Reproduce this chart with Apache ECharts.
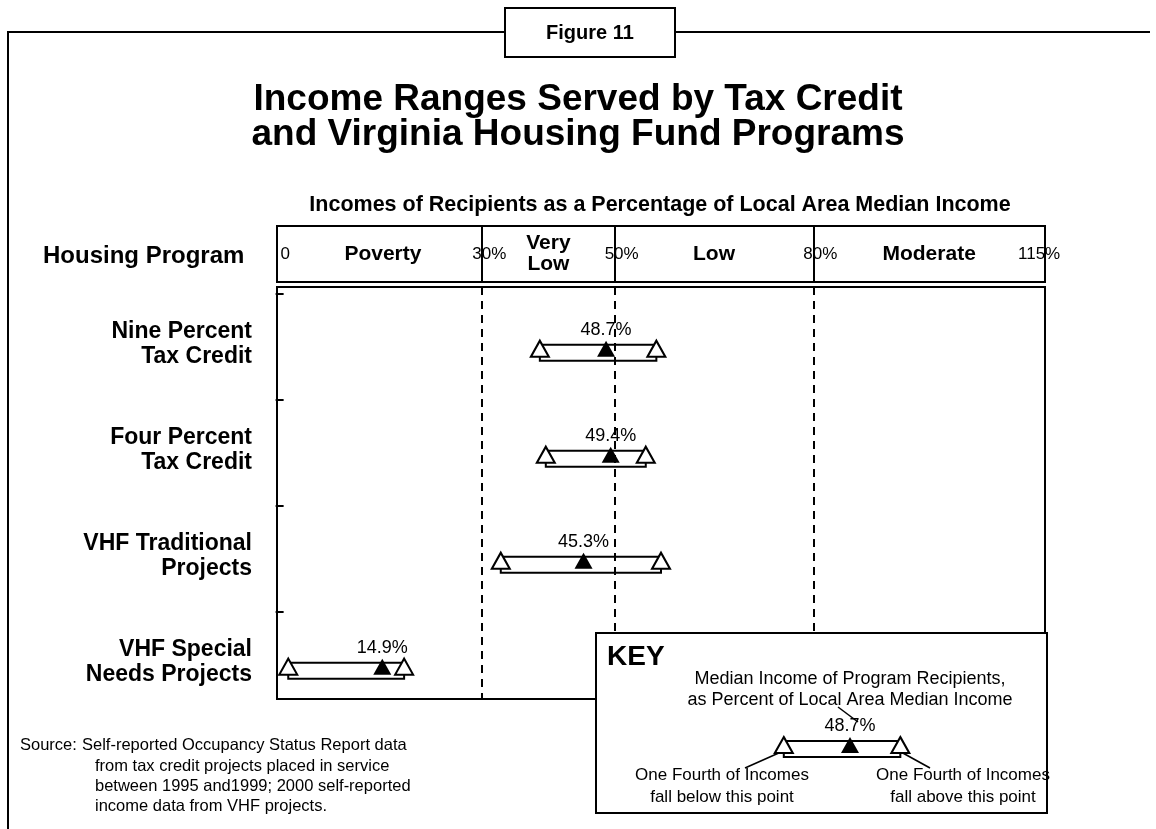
<!DOCTYPE html>
<html>
<head>
<meta charset="utf-8">
<title>Figure 11</title>
<script src="https://cdn.jsdelivr.net/npm/echarts@6/dist/echarts.min.js"></script>
<style>
html, body { margin: 0; padding: 0; background: #fff; }
#main { width: 1156px; height: 829px; }
</style>
</head>
<body>
<div id="main"></div>
<script>
var FONT = "'Liberation Sans', Arial, Helvetica, sans-serif";
var INK = "#000";

// programs, top to bottom
var programs = ["Nine Percent\nTax Credit", "Four Percent\nTax Credit", "VHF Traditional\nProjects", "VHF Special\nNeeds Projects"];
var lowQuarter = [38.7, 39.6, 32.8, 0.7];
var medianIncome = [48.7, 49.4, 45.3, 14.9];
var highQuarter = [56.3, 54.7, 57.0, 18.2];

// header band of income ranges (percent of local area median income)
var rangeEdges = [0, 30, 50, 80, 115];
var edgeLabels = ["0", "30%", "50%", "80%", "115%"];
var rangeNames = ["Poverty", "Very\nLow", "Low", "Moderate"];

// the key shows the first program as its sample
var keyIndex = 0;

var X_MIN = -1, X_MAX = 115;
var Y_MIN = -0.62, Y_MAX = 3.267;
var PLOT = { left: 277, top: 287, width: 768, height: 412 };
var KEYBOX = { left: 596, top: 633, width: 451, height: 180 };
var PX_PER_UNIT = PLOT.width / (X_MAX - X_MIN);
// same scale as the plot, with the key's median sitting at x = 850
var KEY_MIN = medianIncome[keyIndex] - (850 - KEYBOX.left) / PX_PER_UNIT;
var KEY_MAX = KEY_MIN + KEYBOX.width / PX_PER_UNIT;

function renderBox(params, api) {
	var a = api.coord([api.value(0), api.value(2)]);
	var b = api.coord([api.value(1), api.value(2)]);
	return {
		type: "rect",
		shape: { x: a[0], y: a[1] - 8, width: b[0] - a[0], height: 16 },
		style: { fill: "#fff", stroke: INK, lineWidth: 2 }
	};
}

function rangeSeries(xi, yi, rows, z) {
	// box from lower to upper quarter, open triangles at the ends, filled one at the median
	return [
		{
			type: "custom",
			xAxisIndex: xi,
			yAxisIndex: yi,
			z: z,
			renderItem: renderBox,
			encode: { x: [0, 1], y: 2 },
			data: rows.map(function(i, k) { return [lowQuarter[i], highQuarter[i], k]; })
		},
		{
			type: "scatter",
			xAxisIndex: xi,
			yAxisIndex: yi,
			z: z + 1,
			symbol: "triangle",
			symbolSize: [18, 16],
			symbolOffset: [0, -4],
			itemStyle: { color: "#fff", borderColor: INK, borderWidth: 2, opacity: 1 },
			data: rows.reduce(function(acc, i, k) {
				acc.push([lowQuarter[i], k], [highQuarter[i], k]);
				return acc;
			}, [])
		},
		{
			type: "scatter",
			xAxisIndex: xi,
			yAxisIndex: yi,
			z: z + 2,
			symbol: "triangle",
			symbolSize: [18, 16],
			symbolOffset: [0, -4],
			itemStyle: { color: INK, opacity: 1 },
			label: {
				show: true,
				position: "top",
				distance: 2,
				color: INK,
				fontFamily: FONT,
				fontSize: 18,
				formatter: function(p) { return p.value[0].toFixed(1) + "%"; }
			},
			data: rows.map(function(i, k) { return [medianIncome[i], k]; })
		}
	];
}

var chart = echarts.init(document.getElementById("main"));

var plotRows = programs.map(function(p, i) { return i; });
var plotSeries = rangeSeries(0, 0, plotRows, 2);
plotSeries[0].markLine = {
	silent: true,
	symbol: "none",
	label: { show: false },
	lineStyle: { color: INK, width: 2, type: [8, 6] },
	data: rangeEdges.slice(1, 4).map(function(v) { return { xAxis: v }; })
};

var keySeries = rangeSeries(2, 2, [keyIndex], 60);

var lastEdge = rangeEdges.length - 1;
var headerSeries = [
	{
		type: "scatter",
		xAxisIndex: 1,
		yAxisIndex: 1,
		symbolSize: 1,
		itemStyle: { color: "rgba(255,255,255,0)", opacity: 1 },
		label: {
			show: true,
			position: "inside",
			align: "left",
			verticalAlign: "middle",
			color: INK,
			fontFamily: FONT,
			fontSize: 17
		},
		data: rangeEdges.map(function(v, i) {
			return {
				value: [v, 0.5],
				label: {
					formatter: edgeLabels[i],
					offset: [i === 0 ? -3 : (i === lastEdge ? -27 : -10), 0]
				}
			};
		}),
		markLine: {
			silent: true,
			symbol: "none",
			label: { show: false },
			lineStyle: { color: INK, width: 2, type: "solid" },
			data: rangeEdges.slice(1, 4).map(function(v) { return { xAxis: v }; })
		}
	},
	{
		type: "scatter",
		xAxisIndex: 1,
		yAxisIndex: 1,
		symbolSize: 1,
		itemStyle: { color: "rgba(255,255,255,0)", opacity: 1 },
		label: {
			show: true,
			position: "inside",
			color: INK,
			fontFamily: FONT,
			fontWeight: "bold",
			fontSize: 21,
			lineHeight: 21
		},
		data: rangeNames.map(function(name, i) {
			return { value: [(rangeEdges[i] + rangeEdges[i + 1]) / 2, 0.5], label: { formatter: name } };
		})
	}
];

function hiddenX(grid, min, max) {
	return { gridIndex: grid, type: "value", min: min, max: max, show: false };
}

function txt(x, y, text, size, weight, align) {
	return {
		type: "text",
		x: x,
		y: y,
		z: 55,
		style: {
			text: text,
			fill: INK,
			font: (weight || "normal") + " " + size + "px " + FONT,
			align: align || "left",
			verticalAlign: "middle",
			lineHeight: Math.round(size * 1.3)
		}
	};
}

function seg(x1, y1, x2, y2) {
	return { type: "line", z: 55, shape: { x1: x1, y1: y1, x2: x2, y2: y2 }, style: { stroke: INK, lineWidth: 1.5 } };
}

var option = {
	backgroundColor: "#fff",
	animation: false,
	title: {
		text: "Income Ranges Served by Tax Credit\nand Virginia Housing Fund Programs",
		left: "center",
		top: 77,
		textStyle: { fontFamily: FONT, fontWeight: "bold", fontSize: 37, lineHeight: 35, color: INK }
	},
	grid: [
		{ left: PLOT.left, top: PLOT.top, width: PLOT.width, height: PLOT.height, show: true, borderColor: INK, borderWidth: 2, backgroundColor: "transparent" },
		{ left: PLOT.left, top: 226, width: PLOT.width, height: 56, show: true, borderColor: INK, borderWidth: 2, backgroundColor: "#fff" },
		{ left: KEYBOX.left, top: 734, width: KEYBOX.width, height: 30, show: false }
	],
	xAxis: [hiddenX(0, X_MIN, X_MAX), hiddenX(1, X_MIN, X_MAX), hiddenX(2, KEY_MIN, KEY_MAX)],
	yAxis: [
		{
			gridIndex: 0,
			type: "value",
			inverse: true,
			min: Y_MIN,
			max: Y_MAX,
			axisLine: { show: false },
			splitLine: { show: false },
			axisTick: {
				show: true,
				length: 8,
				lineStyle: { color: INK, width: 2 },
				customValues: plotRows.map(function(i) { return i - 0.56; })
			},
			axisLabel: {
				show: true,
				customValues: plotRows.map(function(i) { return i - 0.08; }),
				formatter: function(v) { return programs[Math.round(v + 0.08)]; },
				color: INK,
				fontFamily: FONT,
				fontWeight: "bold",
				fontSize: 23,
				lineHeight: 25,
				align: "right",
				margin: 25
			}
		},
		{ gridIndex: 1, type: "value", min: 0, max: 1, show: false },
		{ gridIndex: 2, type: "value", inverse: true, min: -1, max: 1, show: false }
	],
	graphic: {
		elements: [
			{ type: "polyline", z: 1, shape: { points: [[1150, 32], [8, 32], [8, 829]] }, style: { stroke: INK, fill: null, lineWidth: 2 } },
			{ type: "rect", z: 50, shape: { x: 505, y: 8, width: 170, height: 49 }, style: { fill: "#fff", stroke: INK, lineWidth: 2 } },
			txt(590, 33, "Figure 11", 20, "bold", "center"),
			txt(660, 205, "Incomes of Recipients as a Percentage of Local Area Median Income", 21.5, "bold", "center"),
			txt(43, 256, "Housing Program", 24, "bold", "left"),
			// key box
			{ type: "rect", z: 50, shape: { x: KEYBOX.left, y: KEYBOX.top, width: KEYBOX.width, height: KEYBOX.height }, style: { fill: "#fff", stroke: INK, lineWidth: 2 } },
			txt(607, 657, "KEY", 28, "bold", "left"),
			txt(850, 679, "Median Income of Program Recipients,", 18, "normal", "center"),
			txt(850, 700, "as Percent of Local Area Median Income", 18, "normal", "center"),
			seg(838, 707, 858, 722),
			seg(781, 752, 745, 768),
			seg(901, 752, 930, 768),
			txt(722, 786, "One Fourth of Incomes\nfall below this point", 17, "normal", "center"),
			txt(963, 786, "One Fourth of Incomes\nfall above this point", 17, "normal", "center"),
			// source note
			txt(20, 745, "Source:", 16.5, "normal", "left"),
			txt(82, 745, "Self-reported Occupancy Status Report data", 16.5, "normal", "left"),
			txt(95, 766, "from tax credit projects placed in service", 16.5, "normal", "left"),
			txt(95, 786, "between 1995 and1999; 2000 self-reported", 16.5, "normal", "left"),
			txt(95, 806, "income data from VHF projects.", 16.5, "normal", "left")
		]
	},
	series: plotSeries.concat(headerSeries, keySeries)
};

chart.setOption(option);
</script>
</body>
</html>
